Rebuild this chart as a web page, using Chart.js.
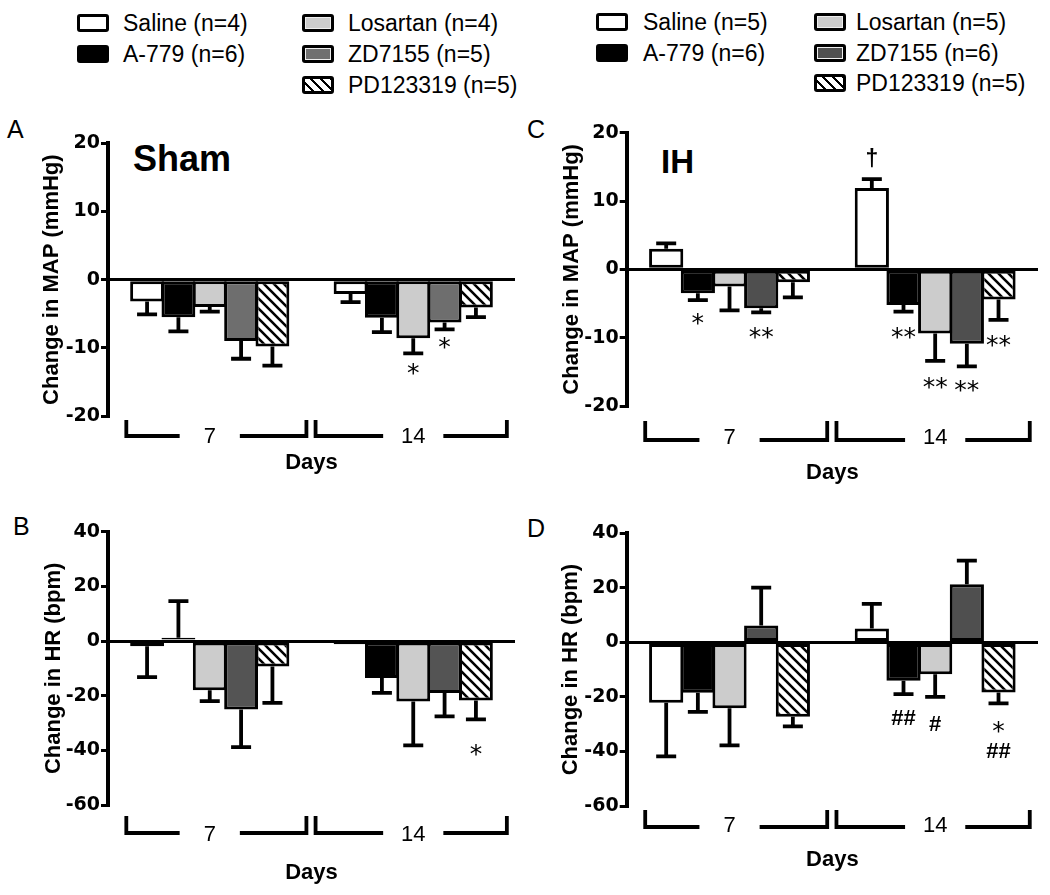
<!DOCTYPE html>
<html><head><meta charset="utf-8">
<script src="https://cdn.jsdelivr.net/npm/chart.js@4/dist/chart.umd.min.js"></script>
<style>
body{margin:0;width:1050px;height:895px;background:#fff;position:relative;overflow:hidden;font-family:"Liberation Sans",Arial,sans-serif;color:#000}
.abs{position:absolute;white-space:nowrap}
.lbox{position:absolute;width:26px;height:12px;border:3px solid #000;border-radius:3px}
.ltxt{position:absolute;white-space:nowrap;font-size:23px;line-height:26px;height:26px}
.hatch{background:repeating-linear-gradient(45deg,#fff 0 4.5px,#000 4.5px 7px)}
.wrap{position:absolute}
</style>
</head><body>
<script>
// ---------- data ----------
const categories = ['7', '14'];
const seriesNames = ['Saline', 'A-779', 'Losartan', 'ZD7155', 'PD123319'];
const shamN = [4, 6, 4, 5, 5];
const ihN = [5, 6, 5, 6, 5];
const mapTicks = [-20, -10, 0, 10, 20];
const hrTicks = [-60, -40, -20, 0, 20, 40];

// per series: [day 7, day 14]
const shamMAPMeans  = [[-3.2, -2.1], [-5.5, -5.6], [-4.0, -8.6], [-9.0, -6.3], [-9.8, -4.1]];
const shamMAPErrors = [[1.9, 1.2], [2.1, 2.1], [0.7, 2.2], [2.6, 1.0], [2.8, 1.4]];
const ihMAPMeans    = [[3.0, 11.9], [-3.5, -5.2], [-2.5, -9.4], [-5.7, -10.9], [-1.9, -4.4]];
const ihMAPErrors   = [[0.8, 1.3], [1.0, 1.0], [3.5, 4.0], [0.6, 3.3], [2.2, 3.0]];
const shamHRMeans   = [[-1.9, -1.2], [1.2, -13.5], [-18.0, -22.1], [-25.1, -19.0], [-9.3, -21.8]];
const shamHRErrors  = [[11.3, 0], [13.4, 5.5], [4.0, 16.1], [13.7, 8.6], [13.3, 6.9]];
const ihHRMeans     = [[-22.1, 5.1], [-18.5, -14.1], [-24.2, -11.7], [6.2, 21.3], [-27.3, -18.4]];
const ihHRErrors    = [[19.7, 9.0], [7.0, 4.9], [13.6, 8.3], [13.9, 8.7], [3.5, 4.0]];

// significance marks: [series index, category index, symbol, value]
const shamMAPMarks = [[2, 1, '*', -12.9], [3, 1, '*', -9.1]];
const ihMAPMarks = [[1, 0, '*', -7.0], [3, 0, '**', -9.1], [0, 1, '†', 16.1], [1, 1, '**', -9.1], [2, 1, '**', -16.4], [3, 1, '**', -16.8], [4, 1, '**', -10.2]];
const shamHRMarks = [[4, 1, '*', -39.3]];
const ihHRMarks = [[1, 1, '##', -27.6], [2, 1, '#', -29.5], [4, 1, '*', -30.4], [4, 1, '##', -39.6]];

// ---------- static text ----------
function addText(txt, x, top, size, weight, lh) {
  const d = document.createElement('div');
  d.className = 'abs';
  d.textContent = txt;
  d.style.left = x + 'px'; d.style.top = top + 'px';
  d.style.fontSize = size + 'px'; d.style.lineHeight = (lh || size) + 'px';
  d.style.fontWeight = weight || 'normal';
  document.body.appendChild(d);
}
addText('A', 7, 116.8, 25);
addText('B', 13, 513.8, 25);
addText('C', 527, 116.8, 25);
addText('D', 527, 515.8, 25);
addText('Sham', 133, 141.2, 36, 'bold');
addText('IH', 661, 144.8, 33, 'bold');

function addLegend(ns, boxX, txtX, rows, zdColor) {
  const layout = [[0, 0, 0], [1, 0, 1], [2, 1, 0], [3, 1, 1], [4, 1, 2]];
  const fills = ['#ffffff', '#000000', '#cccccc', zdColor, null];
  layout.forEach(([s, c, r]) => {
    const b = document.createElement('div');
    b.className = 'lbox' + (fills[s] ? '' : ' hatch');
    if (fills[s]) b.style.background = fills[s];
    if (s === 2 || s === 3) b.style.boxShadow = 'inset 0 0 0 1px #eee';
    b.style.left = boxX[c] + 'px'; b.style.top = (rows[r] - 9) + 'px';
    document.body.appendChild(b);
    const t = document.createElement('div');
    t.className = 'ltxt';
    t.textContent = seriesNames[s] + ' (n=' + ns[s] + ')';
    t.style.left = txtX[c] + 'px'; t.style.top = (rows[r] - 13) + 'px';
    document.body.appendChild(t);
  });
}
addLegend(shamN, [77, 302], [123, 348], [23, 54, 85], '#707070');
addLegend(ihN, [596, 814], [643, 856], [22, 53, 83], '#505050');

// ---------- charts ----------
function hatchPattern(ctx) {
  const c = document.createElement('canvas');
  c.width = 10; c.height = 10;
  const g = c.getContext('2d');
  g.fillStyle = '#fff'; g.fillRect(0, 0, 10, 10);
  g.strokeStyle = '#000'; g.lineWidth = 2.6;
  g.beginPath();
  g.moveTo(-2, -2); g.lineTo(12, 12);
  g.moveTo(-2, 8); g.lineTo(2, 12);
  g.moveTo(8, -2); g.lineTo(12, 2);
  g.stroke();
  return ctx.createPattern(c, 'repeat');
}

const panels = [
  { means: shamMAPMeans, errs: shamMAPErrors, marks: shamMAPMarks, ticks: mapTicks, yTitle: 'Change in MAP (mmHg)',
    cv: { l: 0, t: 100, w: 525, h: 390 }, area: { l: 108, r: 515, t: 143.3, b: 416 }, xH: 57.5, tickPad: 10, yTitlePad: 41,
    br: { v: 6, line: 20 }, zd: '#6e6e6e' },
  { means: ihMAPMeans, errs: ihMAPErrors, marks: ihMAPMarks, ticks: mapTicks, yTitle: 'Change in MAP (mmHg)',
    cv: { l: 525, t: 100, w: 525, h: 390 }, area: { l: 626.7, r: 1038, t: 132.7, b: 406 }, xH: 77.5, tickPad: 21, yTitlePad: 36,
    br: { v: 17, line: 34 }, zd: '#4f4f4f' },
  { means: shamHRMeans, errs: shamHRErrors, marks: shamHRMarks, ticks: hrTicks, yTitle: 'Change in HR (bpm)',
    cv: { l: 0, t: 500, w: 525, h: 395 }, area: { l: 108, r: 515, t: 531.7, b: 805 }, xH: 78.5, tickPad: 18.5, yTitlePad: 43,
    br: { v: 13, line: 28 }, zd: '#545454' },
  { means: ihHRMeans, errs: ihHRErrors, marks: ihHRMarks, ticks: hrTicks, yTitle: 'Change in HR (bpm)',
    cv: { l: 525, t: 500, w: 525, h: 395 }, area: { l: 626.7, r: 1038, t: 533.3, b: 806 }, xH: 64.5, tickPad: 9, yTitlePad: 35,
    br: { v: 6, line: 21 }, zd: '#4f4f4f' }
];

const markFonts = {
  '*': { font: '25px "DejaVu Sans"', k: 0.55, size: 25 },
  '**': { font: '25px "DejaVu Sans"', k: 0.55, size: 25 },
  '#': { font: 'bold 22px "Liberation Sans"', k: 0.35, size: 22 },
  '##': { font: 'bold 22px "Liberation Sans"', k: 0.35, size: 22 },
  '†': { font: 'bold 23px "Liberation Sans"', k: 0.3, size: 23 }
};

// bracket extent as fraction of category band, left / right of centre, per category
const bracketLeft = [0.41, 0.48];
const bracketRight = [0.475, 0.46];

function makeChart(p) {
  const wrap = document.createElement('div');
  wrap.className = 'wrap';
  wrap.style.left = p.cv.l + 'px'; wrap.style.top = p.cv.t + 'px';
  wrap.style.width = p.cv.w + 'px'; wrap.style.height = p.cv.h + 'px';
  const cv = document.createElement('canvas');
  cv.width = p.cv.w; cv.height = p.cv.h;
  cv.style.width = p.cv.w + 'px'; cv.style.height = p.cv.h + 'px';
  wrap.appendChild(cv);
  document.body.appendChild(wrap);
  const ctx = cv.getContext('2d');
  const fills = ['#ffffff', '#000000', '#cccccc', p.zd, hatchPattern(ctx)];

  const errorBars = {
    id: 'errorBars',
    afterDatasetsDraw(chart) {
      const c = chart.ctx, ys = chart.scales.y;
      c.save();
      c.strokeStyle = '#000'; c.lineWidth = 3.8; c.lineCap = 'butt';
      p.means.forEach((arr, i) => {
        const meta = chart.getDatasetMeta(i);
        arr.forEach((v, j) => {
          const e = p.errs[i][j];
          if (!e) return;
          const el = meta.data[j];
          const s = v >= 0 ? 1 : -1;
          const y0 = ys.getPixelForValue(v), y1 = ys.getPixelForValue(v + s * e);
          c.beginPath();
          c.moveTo(el.x, y0); c.lineTo(el.x, y1);
          c.moveTo(el.x - 10, y1); c.lineTo(el.x + 10, y1);
          c.stroke();
        });
      });
      c.restore();
    }
  };

  const marks = {
    id: 'marks',
    afterDatasetsDraw(chart) {
      const c = chart.ctx, ys = chart.scales.y;
      c.save();
      c.fillStyle = '#000'; c.textAlign = 'center'; c.textBaseline = 'alphabetic';
      p.marks.forEach(([s, j, sym, val]) => {
        const f = markFonts[sym];
        const el = chart.getDatasetMeta(s).data[j];
        c.font = f.font;
        c.fillText(sym, el.x, ys.getPixelForValue(val) + f.k * f.size);
      });
      c.restore();
    }
  };

  const brackets = {
    id: 'brackets',
    afterDraw(chart) {
      const c = chart.ctx, xs = chart.scales.x, area = chart.chartArea;
      const band = (area.right - area.left) / categories.length;
      const gap = 32;
      const top = area.bottom + p.br.v, ly = area.bottom + p.br.line;
      c.save();
      c.strokeStyle = '#000'; c.lineWidth = 3.8; c.lineCap = 'square';
      categories.forEach((_, i) => {
        const cx = xs.getPixelForValue(i);
        const l = cx - band * bracketLeft[i], r = cx + band * bracketRight[i];
        c.beginPath();
        c.moveTo(l, top); c.lineTo(l, ly); c.lineTo(cx - gap, ly);
        c.moveTo(cx + gap, ly); c.lineTo(r, ly); c.lineTo(r, top);
        c.stroke();
      });
      c.restore();
    }
  };

  new Chart(ctx, {
    type: 'bar',
    data: {
      labels: categories,
      datasets: seriesNames.map((name, i) => ({
        label: name, data: p.means[i], backgroundColor: fills[i],
        borderColor: '#000', borderWidth: 3, borderSkipped: false, inflateAmount: 0,
        categoryPercentage: 0.77, barPercentage: 1.08
      }))
    },
    options: {
      responsive: false, animation: false, devicePixelRatio: 1,
      layout: { padding: {
        left: 0,
        right: p.cv.w - (p.area.r - p.cv.l),
        top: p.area.t - p.cv.t,
        bottom: p.cv.t + p.cv.h - p.area.b - p.xH
      } },
      plugins: { legend: { display: false }, tooltip: { enabled: false } },
      scales: {
        x: {
          type: 'category', offset: true,
          grid: { display: false, drawTicks: false },
          border: { display: false },
          ticks: { padding: p.tickPad, color: '#000', maxRotation: 0, autoSkip: false,
                   font: { family: 'Liberation Sans', size: 22, lineHeight: 1 } },
          title: { display: true, text: 'Days', color: '#000', padding: 0,
                   font: { family: 'Liberation Sans', size: 22, weight: 'bold', lineHeight: 1 } },
          afterFit: s => { s.height = p.xH; }
        },
        y: {
          min: p.ticks[0], max: p.ticks[p.ticks.length - 1],
          ticks: { stepSize: p.ticks[1] - p.ticks[0], padding: 1, color: '#000',
                   font: { family: 'DejaVu Sans', size: 19, weight: 'bold' } },
          grid: {
            color: c => (c.tick && c.tick.value === 0) ? '#000' : 'rgba(0,0,0,0)',
            lineWidth: 3, tickColor: '#000', tickWidth: 3, tickLength: 7, drawTicks: true
          },
          border: { display: true, color: '#000', width: 4 },
          title: { display: true, text: p.yTitle, color: '#000', padding: { top: p.yTitlePad, bottom: 0 },
                   font: { family: 'Liberation Sans', size: 22, weight: 'bold', lineHeight: 1 } },
          afterFit: s => { s.width = p.area.l - p.cv.l; }
        }
      }
    },
    plugins: [errorBars, marks, brackets]
  });
}
panels.forEach(makeChart);
</script>
</body></html>
